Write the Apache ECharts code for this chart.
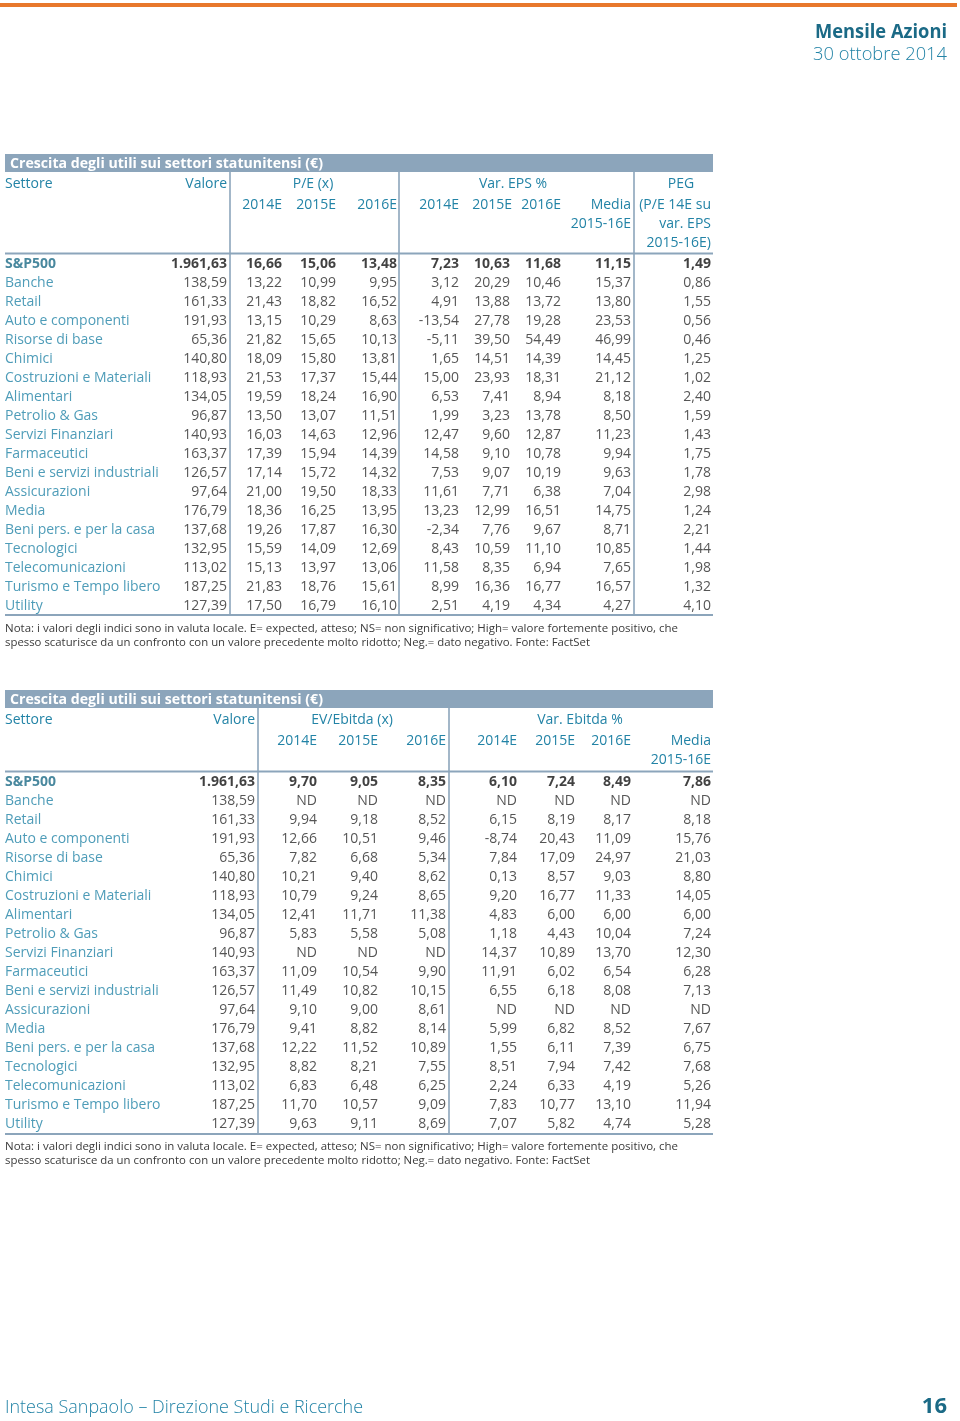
<!DOCTYPE html>
<html><head><meta charset="utf-8">
<script src="https://cdn.jsdelivr.net/npm/echarts@6/dist/echarts.min.js"></script>
<style>html,body{margin:0;padding:0;background:#fff}#c{width:960px;height:1421px}</style>
</head><body><div id="c"></div>
<script>
// ---------- DATA ----------
const sectors = ['S&P500','Banche','Retail','Auto e componenti','Risorse di base','Chimici','Costruzioni e Materiali','Alimentari','Petrolio & Gas','Servizi Finanziari','Farmaceutici','Beni e servizi industriali','Assicurazioni','Media','Beni pers. e per la casa','Tecnologici','Telecomunicazioni','Turismo e Tempo libero','Utility'];
const valore = [1961.63,138.59,161.33,191.93,65.36,140.80,118.93,134.05,96.87,140.93,163.37,126.57,97.64,176.79,137.68,132.95,113.02,187.25,127.39];
// Table 1
const pe2014 = [16.66,13.22,21.43,13.15,21.82,18.09,21.53,19.59,13.50,16.03,17.39,17.14,21.00,18.36,19.26,15.59,15.13,21.83,17.50];
const pe2015 = [15.06,10.99,18.82,10.29,15.65,15.80,17.37,18.24,13.07,14.63,15.94,15.72,19.50,16.25,17.87,14.09,13.97,18.76,16.79];
const pe2016 = [13.48,9.95,16.52,8.63,10.13,13.81,15.44,16.90,11.51,12.96,14.39,14.32,18.33,13.95,16.30,12.69,13.06,15.61,16.10];
const eps2014 = [7.23,3.12,4.91,-13.54,-5.11,1.65,15.00,6.53,1.99,12.47,14.58,7.53,11.61,13.23,-2.34,8.43,11.58,8.99,2.51];
const eps2015 = [10.63,20.29,13.88,27.78,39.50,14.51,23.93,7.41,3.23,9.60,9.10,9.07,7.71,12.99,7.76,10.59,8.35,16.36,4.19];
const eps2016 = [11.68,10.46,13.72,19.28,54.49,14.39,18.31,8.94,13.78,12.87,10.78,10.19,6.38,16.51,9.67,11.10,6.94,16.77,4.34];
const epsMedia = [11.15,15.37,13.80,23.53,46.99,14.45,21.12,8.18,8.50,11.23,9.94,9.63,7.04,14.75,8.71,10.85,7.65,16.57,4.27];
const peg = [1.49,0.86,1.55,0.56,0.46,1.25,1.02,2.40,1.59,1.43,1.75,1.78,2.98,1.24,2.21,1.44,1.98,1.32,4.10];
// Table 2 (null = ND)
const ev2014 = [9.70,null,9.94,12.66,7.82,10.21,10.79,12.41,5.83,null,11.09,11.49,9.10,9.41,12.22,8.82,6.83,11.70,9.63];
const ev2015 = [9.05,null,9.18,10.51,6.68,9.40,9.24,11.71,5.58,null,10.54,10.82,9.00,8.82,11.52,8.21,6.48,10.57,9.11];
const ev2016 = [8.35,null,8.52,9.46,5.34,8.62,8.65,11.38,5.08,null,9.90,10.15,8.61,8.14,10.89,7.55,6.25,9.09,8.69];
const ebitda2014 = [6.10,null,6.15,-8.74,7.84,0.13,9.20,4.83,1.18,14.37,11.91,6.55,null,5.99,1.55,8.51,2.24,7.83,7.07];
const ebitda2015 = [7.24,null,8.19,20.43,17.09,8.57,16.77,6.00,4.43,10.89,6.02,6.18,null,6.82,6.11,7.94,6.33,10.77,5.82];
const ebitda2016 = [8.49,null,8.17,11.09,24.97,9.03,11.33,6.00,10.04,13.70,6.54,8.08,null,8.52,7.39,7.42,4.19,13.10,4.74];
const ebitdaMedia = [7.86,null,8.18,15.76,21.03,8.80,14.05,6.00,7.24,12.30,6.28,7.13,null,7.67,6.75,7.68,5.26,11.94,5.28];

const title = 'Crescita degli utili sui settori statunitensi (€)';
const note1 = 'Nota: i valori degli indici sono in valuta locale. E= expected, atteso; NS= non significativo; High= valore fortemente positivo, che';
const note2 = 'spesso scaturisce da un confronto con un valore precedente molto ridotto; Neg.= dato negativo. Fonte: FactSet';

// ---------- LAYOUT / STYLE ----------
const FONT = '"Open Sans", "Noto Sans", sans-serif';
const TEAL = '#2283a6', TEAL_D = '#1b6a86', NUM = '#2a2a2a', BAR = '#8ca5bb', NOTE = '#3a3a3a';

function fmt(v){
  if (v === null || v === undefined) return 'ND';
  const s = Math.abs(v).toFixed(2).split('.');
  const ip = s[0].replace(/\B(?=(\d{3})+(?!\d))/g, '.');
  return (v < 0 ? '-' : '') + ip + ',' + s[1];
}
const cv = document.createElement('canvas').getContext('2d');
function fitScale(text, font, w){ cv.font = font; return w / cv.measureText(text).width; }

const chart = echarts.init(document.getElementById('c'), null, {renderer:'canvas'});

const tables = [
  {top: 254.5, cols: [[valore,227],[pe2014,282],[pe2015,336],[pe2016,397],[eps2014,459],[eps2015,510],[eps2016,561],[epsMedia,631],[peg,711]]},
  {top: 772.5, cols: [[valore,255],[ev2014,317],[ev2015,378],[ev2016,446],[ebitda2014,517],[ebitda2015,575],[ebitda2016,631],[ebitdaMedia,711]]}
];
const ROWH = 19;

const grid = [], xAxis = [], yAxis = [], series = [];
tables.forEach((t, g) => {
  grid.push({left: 0, width: 960, top: t.top, height: ROWH * sectors.length});
  xAxis.push({type:'value', gridIndex:g, min:0, max:960, show:false});
  yAxis.push({type:'category', gridIndex:g, data:sectors, inverse:true, show:false});
  series.push({
    type:'scatter', xAxisIndex:g, yAxisIndex:g, symbolSize:1, itemStyle:{color:'transparent'}, silent:true,
    data: sectors.map((s,i) => ({value:[5,i,s], label: i===0 ? {fontWeight:'bold', color:TEAL_D} : {}})),
    label:{show:true, position:'right', distance:-0.5, formatter:p=>p.value[2], fontFamily:FONT, fontSize:14, color:TEAL}
  });
  t.cols.forEach(([arr, x]) => {
    series.push({
      type:'scatter', xAxisIndex:g, yAxisIndex:g, symbolSize:1, itemStyle:{color:'transparent'}, silent:true,
      data: arr.map((v,i) => ({value:[x,i,fmt(v)], label: i===0 ? {fontWeight:'bold', color:'#111'} : {}})),
      label:{show:true, position:'left', distance:-0.5, formatter:p=>p.value[2], fontFamily:FONT, fontSize:14, color:NUM}
    });
  });
});

const G = [];
function txt(s, x, y, o){
  o = o || {};
  const size = o.size || 14, weight = o.weight || 'normal';
  const font = weight + ' ' + size + 'px ' + FONT;
  const el = {type:'text', x:x, y:y, silent:true,
    style:{text:s, x:0, y:0, fill:o.color||TEAL, font:font, align:o.align||'left', verticalAlign:'middle'}};
  if (o.w) { el.scaleX = fitScale(s, font, o.w); }
  G.push(el);
}
function rect(x,y,w,h,c){ G.push({type:'rect', silent:true, shape:{x:x,y:y,width:w,height:h}, style:{fill:c}}); }
function hline(x1,x2,y,w){ G.push({type:'line', silent:true, shape:{x1:x1,y1:y,x2:x2,y2:y}, style:{stroke:BAR, lineWidth:w||2}}); }
function vline(x,y1,y2){ G.push({type:'line', silent:true, shape:{x1:x,y1:y1,x2:x,y2:y2}, style:{stroke:BAR, lineWidth:1.6}}); }

// page header
rect(0, 3, 957, 4, '#E8782C');
txt('Mensile Azioni', 947, 33, {size:19, weight:'bold', color:TEAL_D, align:'right', w:132});
txt('30 ottobre 2014', 947, 55, {size:19, weight:'300', color:TEAL, align:'right', w:134});

// table 1 header
rect(5, 154, 708, 18, BAR);
txt(title, 10, 164, {weight:'bold', color:'#fff', w:313});
txt('Settore', 5, 184); txt('Valore', 227, 184, {align:'right'});
txt('P/E (x)', 313, 184, {align:'center'}); txt('Var. EPS %', 513, 184, {align:'center'}); txt('PEG', 681, 184, {align:'center'});
[['2014E',282],['2015E',336],['2016E',397],['2014E',459],['2015E',512],['2016E',561],['Media',631],['(P/E 14E su',711]].forEach(([s,x])=>txt(s,x,205,{align:'right'}));
txt('2015-16E', 631, 224, {align:'right'}); txt('var. EPS', 711, 224, {align:'right'});
txt('2015-16E)', 711, 243, {align:'right'});
hline(5, 713, 253.5);
[230, 399, 634].forEach(x => vline(x, 172, 615));
hline(5, 713, 615);
txt(note1, 5, 629, {size:11, color:NOTE, w:673});
txt(note2, 5, 643, {size:11, color:NOTE, w:585});

// table 2 header
rect(5, 690, 708, 18, BAR);
txt(title, 10, 700, {weight:'bold', color:'#fff', w:313});
txt('Settore', 5, 720); txt('Valore', 255, 720, {align:'right'});
txt('EV/Ebitda (x)', 352, 720, {align:'center'}); txt('Var. Ebitda %', 580, 720, {align:'center'});
[['2014E',317],['2015E',378],['2016E',446],['2014E',517],['2015E',575],['2016E',631],['Media',711]].forEach(([s,x])=>txt(s,x,741,{align:'right'}));
txt('2015-16E', 711, 760, {align:'right'});
hline(5, 713, 771.5);
[258, 449].forEach(x => vline(x, 708, 1134));
hline(5, 713, 1134);
txt(note1, 5, 1147, {size:11, color:NOTE, w:673});
txt(note2, 5, 1161, {size:11, color:NOTE, w:585});

// footer
txt('Intesa Sanpaolo – Direzione Studi e Ricerche', 5, 1408, {size:19, weight:'300', color:TEAL, w:358});
txt('16', 947, 1407, {size:22, weight:'bold', color:TEAL_D, align:'right'});

chart.setOption({animation:false, grid, xAxis, yAxis, series, graphic: G});
</script></body></html>
